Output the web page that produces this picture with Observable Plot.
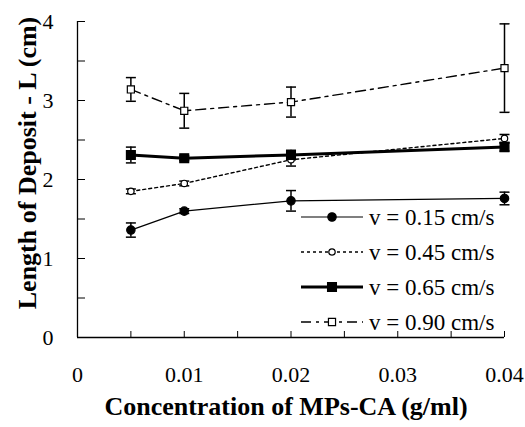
<!DOCTYPE html>
<html><head><meta charset="utf-8">
<script src="https://cdn.jsdelivr.net/npm/d3@7"></script>
<script src="https://cdn.jsdelivr.net/npm/@observablehq/plot@0.6"></script>
<style>
body{margin:0;background:#fff}
#chart{position:relative;width:525px;height:427px}
</style>
</head><body><div id="chart"></div>
<script>
// ---- data ----
const concentrations = [0.005, 0.01, 0.02, 0.04];
const seriesNames = ["v = 0.15 cm/s", "v = 0.45 cm/s", "v = 0.65 cm/s", "v = 0.90 cm/s"];
const v015 = [1.36, 1.60, 1.73, 1.76];
const err015 = [0.09, 0.03, 0.13, 0.08];
const v045 = [1.85, 1.95, 2.25, 2.52];
const err045 = [0.03, 0.03, 0.08, 0.05];
const v065 = [2.31, 2.27, 2.31, 2.41];
const err065 = [0.10, 0.03, 0.06, 0.05];
const v090 = [3.14, 2.87, 2.98, 3.41];
const err090 = [0.15, 0.22, 0.19, 0.56];
const yTickValues = [0, 0.5, 1, 1.5, 2, 2.5, 3, 3.5, 4];
const yLabelValues = [0, 1, 2, 3, 4];
const xTickValues = [0, 0.005, 0.01, 0.015, 0.02, 0.025, 0.03, 0.035, 0.04];
const xLabelValues = [0, 0.01, 0.02, 0.03, 0.04];
const xTitle = "Concentration of MPs-CA (g/ml)";
const yTitle = "Length of Deposit - L (cm)";

// ---- styles ----
const styles = [
  {symbol: "circle", fill: "black", r: 4.2, strokeWidth: 1.2, dash: null},
  {symbol: "circle", fill: "white", r: 3.2, strokeWidth: 1.4, dash: "3,3"},
  {symbol: "square", fill: "black", r: 5.0, strokeWidth: 3, dash: null},
  {symbol: "square", fill: "white", r: 4.0, strokeWidth: 1.4, dash: "10,5,3,5"}
];
const values = [v015, v045, v065, v090];
const errors = [err015, err045, err065, err090];
const series = seriesNames.map((name, k) => ({
  name, style: styles[k],
  rows: concentrations.map((c, i) => ({x: c, y: values[k][i], e: errors[k][i]}))
}));

const capSymbol = {draw(ctx) { ctx.moveTo(-5, 0); ctx.lineTo(5, 0); }};

const marks = [];
for (const s of series) {
  marks.push(Plot.ruleX(s.rows, {x: "x", y1: d => d.y - d.e, y2: d => d.y + d.e, stroke: "black", strokeWidth: 1.5}));
  marks.push(Plot.dot(s.rows, {x: "x", y: d => d.y - d.e, symbol: capSymbol, stroke: "black", strokeWidth: 1.5, r: 3}));
  marks.push(Plot.dot(s.rows, {x: "x", y: d => d.y + d.e, symbol: capSymbol, stroke: "black", strokeWidth: 1.5, r: 3}));
}
for (const s of series) {
  marks.push(Plot.line(s.rows, {x: "x", y: "y", stroke: "black", strokeWidth: s.style.strokeWidth, strokeDasharray: s.style.dash}));
}
for (const s of series) {
  marks.push(Plot.dot(s.rows, {x: "x", y: "y", symbol: s.style.symbol, fill: s.style.fill, stroke: "black", strokeWidth: 1.2, r: s.style.r}));
}

const chart = Plot.plot({
  width: 525, height: 427,
  marginLeft: 77, marginRight: 21, marginTop: 21, marginBottom: 90,
  style: {fontFamily: "'Liberation Serif', 'Times New Roman', serif", fontSize: "22px", color: "black", background: "white"},
  x: {domain: [0, 0.04], label: null},
  y: {domain: [0, 4], label: null},
  marks: [
    Plot.ruleX([0], {stroke: "black", strokeWidth: 1.3}),
    Plot.ruleY([0], {stroke: "black", strokeWidth: 1.3}),
    Plot.axisY(yTickValues, {tickSize: -8, tickFormat: () => "", stroke: "black", label: null}),
    Plot.axisY(yLabelValues, {tickSize: 0, tickPadding: 24, label: null, tickFormat: d => String(d)}),
    Plot.axisX(xTickValues, {tickSize: -6, tickFormat: () => "", stroke: "black", label: null}),
    Plot.axisX(xLabelValues, {tickSize: 0, tickPadding: 29, label: null, tickFormat: d => d === 0 ? "0" : d.toFixed(2)}),
    ...marks
  ]
});
document.getElementById("chart").appendChild(chart);

const svg = d3.select(chart);
// ---- axis titles ----
svg.append("text").attr("transform", "translate(286,406)")
  .attr("text-anchor", "middle").attr("dy", "0.35em")
  .attr("font-weight", "bold").attr("font-size", 26).attr("fill", "black").text(xTitle);
svg.append("text").attr("transform", "translate(27,163) rotate(-90)")
  .attr("text-anchor", "middle").attr("dy", "0.35em")
  .attr("font-weight", "bold").attr("font-size", 26).attr("fill", "black").text(yTitle);

// ---- legend (inside plot area) ----
const lg = svg.append("g").attr("transform", "translate(301,217)");
series.forEach((s, k) => {
  const g = lg.append("g").attr("transform", `translate(0,${k * 35})`);
  g.append("line").attr("x1", 0).attr("x2", 62).attr("y1", 0).attr("y2", 0)
    .attr("stroke", "black").attr("stroke-width", s.style.strokeWidth)
    .attr("stroke-dasharray", s.style.dash);
  const sym = s.style.symbol === "circle" ? d3.symbolCircle : d3.symbolSquare;
  g.append("path").attr("transform", "translate(31,0)")
    .attr("d", d3.symbol(sym, Math.PI * s.style.r * s.style.r)())
    .attr("fill", s.style.fill).attr("stroke", "black").attr("stroke-width", 1.2);
  g.append("text").attr("x", 68).attr("y", 0).attr("dy", "0.35em")
    .attr("text-anchor", "start")
    .attr("font-size", 23).attr("fill", "black").text(s.name);
});
</script>
</body></html>
